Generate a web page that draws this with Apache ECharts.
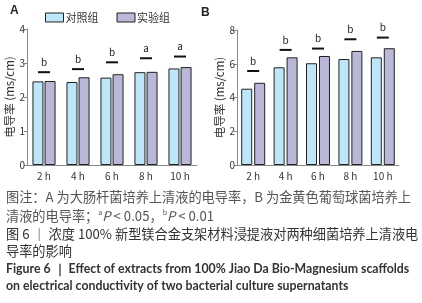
<!DOCTYPE html>
<html>
<head>
<meta charset="utf-8">
<script src="https://cdn.jsdelivr.net/npm/echarts@6/dist/echarts.min.js"></script>
<style>
  html, body { margin: 0; padding: 0; background: #fff; }
  #main { width: 422px; height: 303px; }
</style>
</head>
<body>
<div id="main"></div>
<script>
var categories = ['2 h', '4 h', '6 h', '8 h', '10 h'];
// A: E. coli supernatant
var ctrlA = [2.46, 2.44, 2.57, 2.73, 2.84];
var expA = [2.47, 2.58, 2.67, 2.74, 2.88];
var sigA = [2.73, 2.82, 3.02, 3.14, 3.19];
var sigLetterA = ['b', 'b', 'b', 'a', 'a'];
var ticksA = [0, 1, 2, 3, 4];
// B: S. aureus supernatant
var ctrlB = [4.52, 5.79, 6.03, 6.28, 6.38];
var expB = [4.87, 6.38, 6.46, 6.76, 6.92];
var sigB = [5.57, 6.82, 6.90, 7.45, 7.55];
var sigLetterB = ['b', 'b', 'b', 'b', 'b'];
var ticksB = [0, 2, 4, 6, 8];

var font = '"Noto Sans CJK SC", "Noto Sans", sans-serif';
var cCtrl = '#bde6f8';
var cExp = '#b9b8d8';

var chart = echarts.init(document.getElementById('main'));

// 显著性标记：短横线 + 字母
function sigSeries(gi, values, letters) {
  return {
    type: 'custom',
    xAxisIndex: gi,
    yAxisIndex: gi,
    z: 5,
    data: values.map(function (v, i) { return [i, v]; }),
    renderItem: function (params, api) {
      var p = api.coord([api.value(0), api.value(1)]);
      return {
        type: 'group',
        children: [{
          type: 'line',
          shape: { x1: p[0] - 6, y1: p[1], x2: p[0] + 6, y2: p[1] },
          style: { stroke: '#111', lineWidth: 2 }
        }, {
          type: 'text',
          x: p[0],
          y: p[1] - 5,
          style: {
            text: letters[params.dataIndex],
            fill: '#222',
            font: '10px ' + font,
            align: 'center',
            verticalAlign: 'bottom'
          }
        }]
      };
    }
  };
}

function xAx(gi) {
  return {
    type: 'category',
    gridIndex: gi,
    data: categories,
    axisLine: { lineStyle: { color: '#888', width: 1 } },
    axisTick: { alignWithLabel: true, length: 3, lineStyle: { color: '#888' } },
    axisLabel: { color: '#333', fontSize: 10, fontFamily: font, margin: 6 }
  };
}

function yAx(gi, ticks) {
  return {
    type: 'value',
    gridIndex: gi,
    min: ticks[0],
    max: ticks[ticks.length - 1],
    interval: ticks[1] - ticks[0],
    name: '电导率 (ms/cm)',
    nameLocation: 'middle',
    nameGap: 12,
    nameTextStyle: { color: '#333', fontSize: 11.5, fontFamily: font },
    axisLine: { show: true, lineStyle: { color: '#888', width: 1 } },
    axisTick: { show: true, length: 3, lineStyle: { color: '#888' } },
    axisLabel: { color: '#333', fontSize: 10, fontFamily: font, margin: 2 },
    splitLine: { show: false }
  };
}

function barSeries(name, gi, data, color, gap) {
  return {
    name: name,
    type: 'bar',
    xAxisIndex: gi,
    yAxisIndex: gi,
    data: data,
    barWidth: 11,
    barGap: gap,
    itemStyle: { color: color, borderColor: '#222', borderWidth: 1 }
  };
}

var capText = '#555';
var cnFont = '13.2px ' + font;
var enFont = 'bold 12.3px Lato, "Noto Sans", sans-serif';
var option = {
  animation: false,
  textStyle: { fontFamily: font },
  legend: {
    left: 45,
    top: 12,
    padding: 0,
    itemWidth: 18,
    itemHeight: 9,
    itemGap: 18,
    data: [
      { name: '对照组', icon: 'rect', itemStyle: { color: cCtrl, borderColor: '#222', borderWidth: 1 } },
      { name: '实验组', icon: 'rect', itemStyle: { color: cExp, borderColor: '#222', borderWidth: 1 } }
    ],
    textStyle: { color: '#333', fontSize: 11, fontFamily: font, padding: [0, 0, 0, -3] }
  },
  grid: [
    { left: 27, top: 29, width: 170, height: 136 },
    { left: 237, top: 30, width: 162, height: 135 }
  ],
  xAxis: [xAx(0), xAx(1)],
  yAxis: [yAx(0, ticksA), yAx(1, ticksB)],
  series: [
    barSeries('对照组', 0, ctrlA, cCtrl, '10%'),
    barSeries('实验组', 0, expA, cExp, '10%'),
    barSeries('对照组', 1, ctrlB, cCtrl, '18%'),
    barSeries('实验组', 1, expB, cExp, '18%'),
    sigSeries(0, sigA, sigLetterA),
    sigSeries(1, sigB, sigLetterB)
  ],
  graphic: [
    { type: 'text', left: 10, top: 5, style: { text: 'A', font: 'bold 12px Arial, sans-serif', fill: '#222' } },
    { type: 'text', left: 201, top: 7, style: { text: 'B', font: 'bold 12px Arial, sans-serif', fill: '#222' } },
    { type: 'text', left: 6, top: 190, style: { text: '图注：A 为大肠杆菌培养上清液的电导率，B 为金黄色葡萄球菌培养上', font: cnFont, fill: capText } },
    { type: 'text', left: 6, top: 209, style: {
      text: '清液的电导率；{sup|a}{it|P} < 0.05，{sup|b}{it|P} < 0.01',
      font: cnFont, fill: capText,
      rich: {
        sup: { fontSize: 7, verticalAlign: 'top', padding: [0, 0, 6, 0], fill: capText, fontFamily: font },
        it: { fontStyle: 'italic', fontSize: 13.2, fill: capText, fontFamily: font }
      }
    } },
    { type: 'text', left: 6, top: 227, style: { text: '图 6 ｜ 浓度 100% 新型镁合金支架材料浸提液对两种细菌培养上清液电', font: cnFont, fill: '#333' } },
    { type: 'text', left: 6, top: 244, style: { text: '导率的影响', font: cnFont, fill: '#333' } },
    { type: 'text', left: 6, top: 263, style: { text: 'Figure 6 ｜ Effect of extracts from 100% Jiao Da Bio-Magnesium scaffolds', font: enFont, fill: '#333' } },
    { type: 'text', left: 6, top: 280, style: { text: 'on electrical conductivity of two bacterial culture supernatants', font: enFont, fill: '#333' } }
  ]
};
chart.setOption(option);
</script>
</body>
</html>
